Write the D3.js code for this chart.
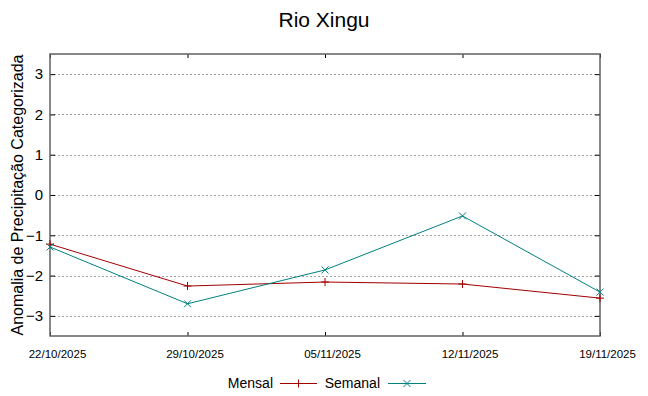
<!DOCTYPE html>
<html><head><meta charset="utf-8">
<script src="https://cdn.jsdelivr.net/npm/d3@7"></script>
<style>body{margin:0;background:#fff}svg{display:block}text{font-family:"Liberation Sans",Arial,sans-serif}</style>
</head><body><svg id="c" width="648" height="396"></svg>
<script>
const title = "Rio Xingu";
const yTitle = "Anomalia de Precipitação Categorizada";
const dates = ["22/10/2025","29/10/2025","05/11/2025","12/11/2025","19/11/2025"];
const mensal = [-1.22,-2.26,-2.16,-2.21,-2.56];
const semanal = [-1.29,-2.70,-1.86,-0.52,-2.41];
const yTicks = [-3,-2,-1,0,1,2,3];
const seriesNames = ["Mensal","Semanal"];

const svg = d3.select("#c");
const L=50,R=600,T=54,B=336;
const x = d3.scalePoint().domain(dates).range([L,R]);
const y = d3.scaleLinear().domain([-3.5,3.5]).range([B,T]);

// grid
svg.append("g").selectAll("line").data(yTicks).join("line")
  .attr("x1",L).attr("x2",R).attr("y1",d=>Math.round(y(d))+0.5).attr("y2",d=>Math.round(y(d))+0.5)
  .attr("stroke","#a0a0a0").attr("stroke-width",1).attr("stroke-dasharray","2,2");

// axes
const gl = svg.append("g").attr("transform",`translate(${L},0)`)
  .call(d3.axisLeft(y).tickValues(yTicks).tickSizeInner(-5).tickSizeOuter(0).tickPadding(7).tickFormat(d3.format("d")));
const gr = svg.append("g").attr("transform",`translate(${R},0)`)
  .call(d3.axisRight(y).tickValues(yTicks).tickSizeInner(-5).tickSizeOuter(0).tickFormat(""));
const gb = svg.append("g").attr("transform",`translate(0,${B})`)
  .call(d3.axisBottom(x).tickSizeInner(-4).tickSizeOuter(0).tickPadding(14));
const gt = svg.append("g").attr("transform",`translate(0,${T})`)
  .call(d3.axisTop(x).tickSizeInner(-4).tickSizeOuter(0).tickFormat(""));
[gl,gr,gb,gt].forEach(g=>{g.select(".domain").remove();g.selectAll(".tick line").attr("stroke","#000");});
gl.selectAll("text").attr("font-size",15).attr("fill","#000");
gb.selectAll("text").attr("font-size",11.5).attr("fill","#000").attr("dx",7);

// frame
svg.append("rect").attr("x",L).attr("y",T).attr("width",R-L).attr("height",B-T)
  .attr("fill","none").attr("stroke","#606060").attr("stroke-width",1.5);

// title
svg.append("text").attr("x",324).attr("y",27).attr("text-anchor","middle").attr("font-size",21).text(title);
svg.append("text").attr("transform",`translate(23,${(T+B)/2}) rotate(-90)`).attr("text-anchor","middle").attr("font-size",16).text(yTitle);

const line = d3.line().x((d,i)=>x(dates[i])).y(d=>y(d));
const colors = ["#a00000","#008080"];
const data = [mensal, semanal];
data.forEach((s,k)=>{
  svg.append("path").datum(s).attr("d",line).attr("fill","none").attr("stroke",colors[k]).attr("stroke-width",1);
  const g = svg.append("g").attr("stroke",colors[k]).attr("stroke-width",1);
  s.forEach((v,i)=>{
    const cx=x(dates[i]), cy=y(v);
    if(k===0){
      g.append("path").attr("d",`M${cx-4},${cy}H${cx+4}M${cx},${cy-4}V${cy+4}`);
    } else {
      g.append("path").attr("d",`M${cx-3.5},${cy-3.5}L${cx+3.5},${cy+3.5}M${cx-3.5},${cy+3.5}L${cx+3.5},${cy-3.5}`);
    }
  });
});

// legend
const leg = [{name:seriesNames[0],tx:273,lx1:280,lx2:317},{name:seriesNames[1],tx:380,lx1:388,lx2:426}];
leg.forEach((d,k)=>{
  svg.append("text").attr("x",d.tx).attr("y",388).attr("text-anchor","end").attr("font-size",14).text(d.name);
  svg.append("line").attr("x1",d.lx1).attr("x2",d.lx2).attr("y1",383.5).attr("y2",383.5).attr("stroke",colors[k]);
  const cx=(d.lx1+d.lx2)/2, cy=383.5;
  if(k===0) svg.append("path").attr("d",`M${cx},${cy-4}V${cy+4}`).attr("stroke",colors[k]);
  else svg.append("path").attr("d",`M${cx-3.5},${cy-3.5}L${cx+3.5},${cy+3.5}M${cx-3.5},${cy+3.5}L${cx+3.5},${cy-3.5}`).attr("stroke",colors[k]);
});
</script></body></html>
